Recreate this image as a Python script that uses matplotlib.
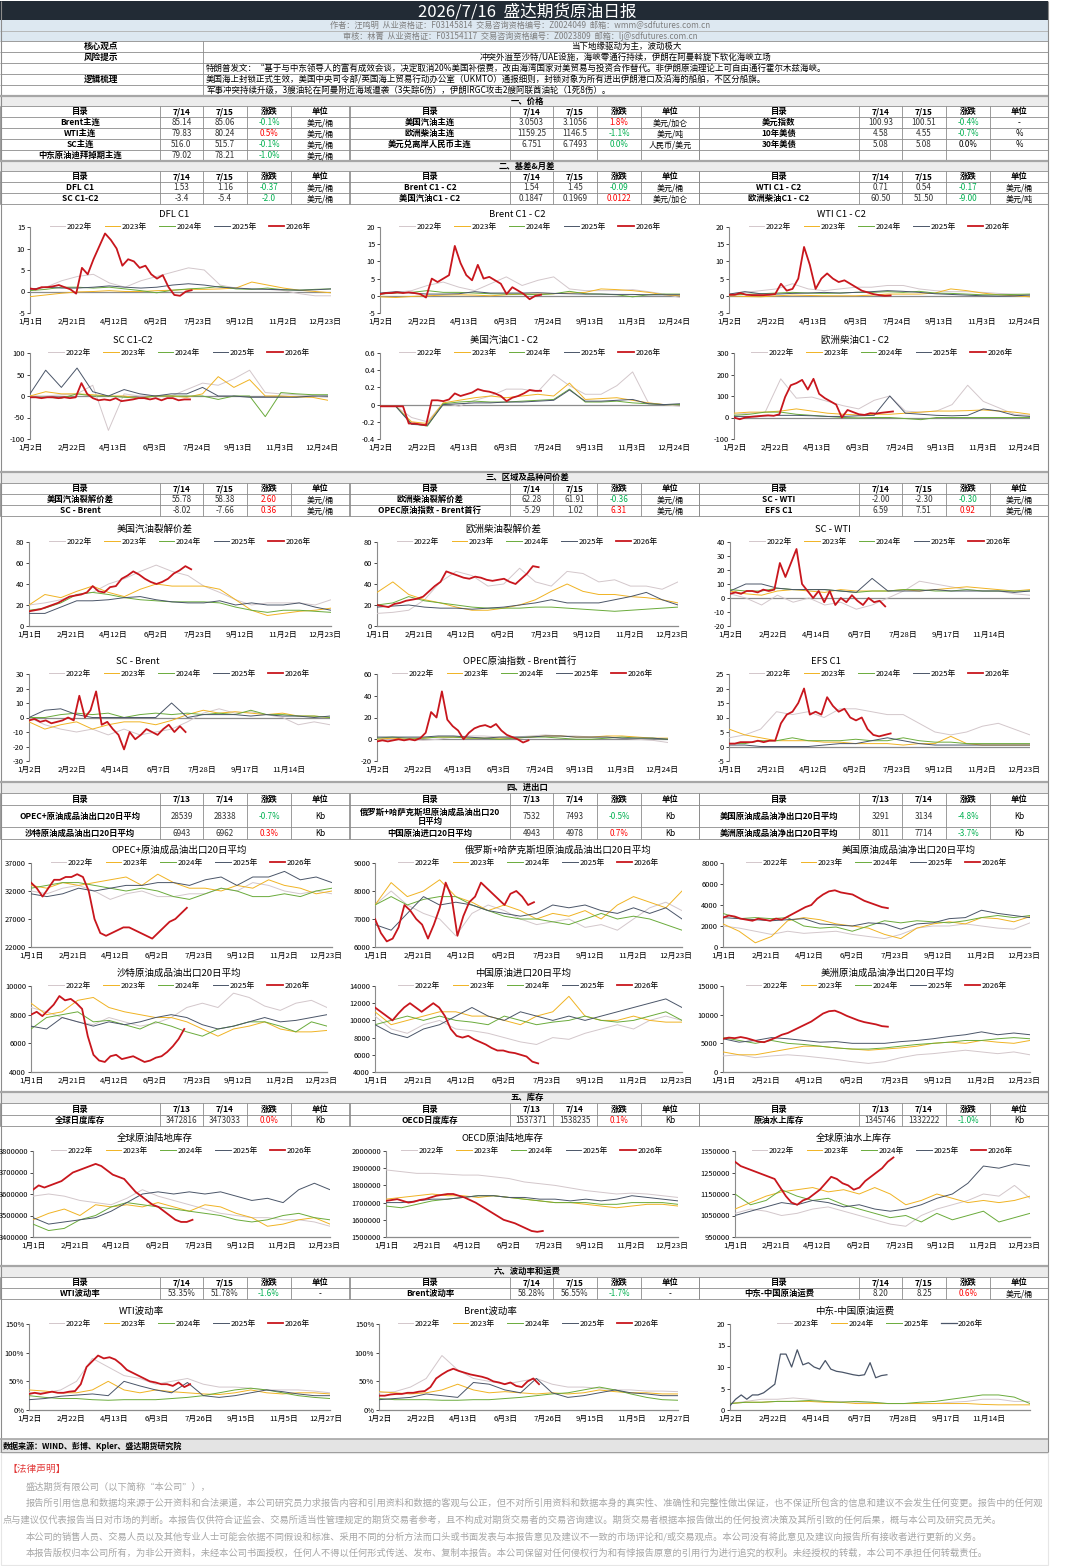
import numpy as np
import matplotlib
matplotlib.use('Agg')
import matplotlib.pyplot as plt
from matplotlib.patches import Rectangle

FONT = ['Noto Sans CJK SC', 'DejaVu Sans']
plt.rcParams['font.family'] = FONT
plt.rcParams['axes.unicode_minus'] = False

# ---------------- text / table data ----------------
report_title = '2026/7/16  盛达期货原油日报'
author_line = '作者：汪鸣明  从业资格证：F03145814  交易咨询资格编号：Z0024049  邮箱：wmm@sdfutures.com.cn'
review_line = '审核：林菁  从业资格证：F03154117  交易咨询资格编号：Z0023809  邮箱：lj@sdfutures.com.cn'
core_view = '当下地缘驱动为主，波动极大'
risk_note = '冲突外溢至沙特/UAE设施，海峡零通行持续，伊朗在阿曼斡旋下软化海峡立场'
logic_lines = [
    '特朗普发文：“基于与中东领导人的富有成效会谈，决定取消20%美国补偿费，改由海湾国家对美贸易与投资合作替代。非伊朗原油理论上可自由通行霍尔木兹海峡。',
    '美国海上封锁正式生效，美国中央司令部/英国海上贸易行动办公室（UKMTO）通报细则，封锁对象为所有进出伊朗港口及沿海的船舶，不区分船旗。',
    '军事冲突持续升级，3艘油轮在阿曼附近海域遭袭（3失踪6伤），伊朗IRGC攻击2艘阿联酋油轮（1死8伤）。',
]

dates_a = ['7/14', '7/15']
dates_b = ['7/13', '7/14']

sec1_g1 = [('Brent主连', '85.14', '85.06', '-0.1%', '美元/桶', 'g'),
           ('WTI主连', '79.83', '80.24', '0.5%', '美元/桶', 'r'),
           ('SC主连', '516.0', '515.7', '-0.1%', '美元/桶', 'g'),
           ('中东原油迪拜掉期主连', '79.02', '78.21', '-1.0%', '美元/桶', 'g')]
sec1_g2 = [('美国汽油主连', '3.0503', '3.1056', '1.8%', '美元/加仑', 'r'),
           ('欧洲柴油主连', '1159.25', '1146.5', '-1.1%', '美元/吨', 'g'),
           ('美元兑离岸人民币主连', '6.751', '6.7493', '0.0%', '人民币/美元', 'g'),
           None]
sec1_g3 = [('美元指数', '100.93', '100.51', '-0.4%', '-', 'g'),
           ('10年美债', '4.58', '4.55', '-0.7%', '%', 'g'),
           ('30年美债', '5.08', '5.08', '0.0%', '%', 'k'),
           None]

sec2_g1 = [('DFL C1', '1.53', '1.16', '-0.37', '美元/桶', 'g'),
           ('SC C1-C2', '-3.4', '-5.4', '-2.0', '美元/桶', 'g')]
sec2_g2 = [('Brent C1 - C2', '1.54', '1.45', '-0.09', '美元/桶', 'g'),
           ('美国汽油C1 - C2', '0.1847', '0.1969', '0.0122', '美元/加仑', 'r')]
sec2_g3 = [('WTI C1 - C2', '0.71', '0.54', '-0.17', '美元/桶', 'g'),
           ('欧洲柴油C1 - C2', '60.50', '51.50', '-9.00', '美元/吨', 'g')]

sec3_g1 = [('美国汽油裂解价差', '55.78', '58.38', '2.60', '美元/桶', 'r'),
           ('SC - Brent', '-8.02', '-7.66', '0.36', '美元/桶', 'r')]
sec3_g2 = [('欧洲柴油裂解价差', '62.28', '61.91', '-0.36', '美元/桶', 'g'),
           ('OPEC原油指数 - Brent首行', '-5.29', '1.02', '6.31', '美元/桶', 'r')]
sec3_g3 = [('SC - WTI', '-2.00', '-2.30', '-0.30', '美元/桶', 'g'),
           ('EFS C1', '6.59', '7.51', '0.92', '美元/桶', 'r')]

sec4_g1 = [('OPEC+原油成品油出口20日平均', '28539', '28338', '-0.7%', 'Kb', 'g'),
           ('沙特原油成品油出口20日平均', '6943', '6962', '0.3%', 'Kb', 'r')]
sec4_g2 = [('俄罗斯+哈萨克斯坦原油成品油出口20\n日平均', '7532', '7493', '-0.5%', 'Kb', 'g'),
           ('中国原油进口20日平均', '4943', '4978', '0.7%', 'Kb', 'r')]
sec4_g3 = [('美国原油成品油净出口20日平均', '3291', '3134', '-4.8%', 'Kb', 'g'),
           ('美洲原油成品油净出口20日平均', '8011', '7714', '-3.7%', 'Kb', 'g')]

sec5_g1 = [('全球日度库存', '3472816', '3473033', '0.0%', 'Kb', 'r')]
sec5_g2 = [('OECD日度库存', '1537371', '1538235', '0.1%', 'Kb', 'r')]
sec5_g3 = [('原油水上库存', '1345746', '1332222', '-1.0%', 'Kb', 'g')]

sec6_g1 = [('WTI波动率', '53.35%', '51.78%', '-1.6%', '-', 'g')]
sec6_g2 = [('Brent波动率', '58.28%', '56.55%', '-1.7%', '-', 'g')]
sec6_g3 = [('中东-中国原油运费', '8.20', '8.25', '0.6%', '美元/桶', 'r')]

legal_lines = [
    '盛达期货有限公司（以下简称“本公司”），',
    '报告所引用信息和数据均来源于公开资料和合法渠道，本公司研究员力求报告内容和引用资料和数据的客观与公正，但不对所引用资料和数据本身的真实性、准确性和完整性做出保证，也不保证所包含的信息和建议不会发生任何变更。报告中的任何观',
    '点与建议仅代表报告当日对市场的判断。本报告仅供符合证监会、交易所适当性管理规定的期货交易者参考，且不构成对期货交易者的交易咨询建议。期货交易者根据本报告做出的任何投资决策及其所引致的任何后果，概与本公司及研究员无关。',
    '本公司的销售人员、交易人员以及其他专业人士可能会依据不同假设和标准、采用不同的分析方法而口头或书面发表与本报告意见及建议不一致的市场评论和/或交易观点。本公司没有将此意见及建议向报告所有接收者进行更新的义务。',
    '本报告版权归本公司所有，为非公开资料，未经本公司书面授权，任何人不得以任何形式传送、发布、复制本报告。本公司保留对任何侵权行为和有悖报告原意的引用行为进行追究的权利。未经授权的转载，本公司不承担任何转载责任。',
]

# ---------------- chart data (2022..2026) ----------------
years = ['2022年', '2023年', '2024年', '2025年', '2026年']
years_freight = ['2023年', '2024年', '2025年', '2026年']

xl_a = ['1月1日', '2月21日', '4月12日', '6月2日', '7月23日', '9月12日', '11月2日', '12月23日']
xl_b = ['1月2日', '2月22日', '4月13日', '6月3日', '7月24日', '9月13日', '11月3日', '12月24日']
xl_c = ['1月2日', '2月22日', '4月14日', '6月7日', '7月28日', '9月17日', '11月14日']
xl_d = ['1月2日', '2月22日', '4月13日', '6月3日', '7月26日', '9月15日', '11月5日', '12月27日']

dfl = [
    [0.5, 1.0, 2.5, 3.5, 4.0, 2.0, 1.0, 2.5, 3.5, 4.5, 5.5, 5.0, 1.5, 0.8, 0.5, 0.5, 0.2, -0.5, -1.0, -1.0],
    [-1.2, -0.8, -0.4, -0.1, 0.0, 0.2, 0.0, 0.0, 0.2, 0.3, 0.5, 0.5, 0.6, 0.8, 2.2, 1.5, 0.8, 0.3, 0.0, -0.3],
    [0.2, 0.5, 1.0, 1.0, 0.8, 1.0, 0.6, 0.2, -0.3, 0.3, 0.6, 0.8, 1.2, 0.6, 0.5, 0.8, 0.4, 0.3, 0.5, 0.6],
    [0.5, 1.0, 0.8, 0.8, 1.0, 1.3, 1.0, 0.8, 1.0, 1.5, 1.8, 1.5, 1.0, 0.8, 0.6, 0.5, 0.4, 0.3, 0.4, 0.6],
    [0.7, 0.5, 1.0, 1.0, 1.2, 1.5, 1.0, 0.5, -0.5, 5.5, 4.0, 7.5, 10.5, 13.5, 12.0, 10.0, 6.0, 7.5, 7.0,
     5.5, 6.0, 4.0, 3.0, 3.8, 1.0, -0.8, -1.0, 0.0, 0.3],
]
brent_spr = [
    [0.5, 1.0, 1.5, 3.0, 4.0, 2.5, 1.5, 3.5, 5.5, 3.0, 4.5, 5.5, 2.0, 1.5, 1.5, 1.5, 1.8, 1.2, 0.5, -0.5],
    [-0.3, -0.5, -0.2, 0.0, 0.2, 0.3, 0.2, 0.0, 0.3, 0.5, 0.5, 0.6, 0.8, 1.0, 2.0, 1.8, 1.5, 1.0, 0.3, 0.0],
    [0.5, 0.8, 1.0, 1.5, 1.0, 1.0, 0.8, 0.6, 0.5, 0.5, 0.3, 0.6, 1.3, 0.6, 0.5, 0.3, -0.3, 0.3, 0.5, 0.5],
    [0.8, 1.2, 0.8, 0.5, 0.5, 0.6, 1.2, 0.8, 0.8, 0.8, 0.9, 0.7, 0.6, 0.5, 0.5, 0.4, 0.4, 0.3, 0.3, 0.3],
    [0.5, 0.8, 0.8, 1.0, 0.8, 1.0, 0.8, 0.5, -0.5, 5.0, 4.0, 5.0, 6.0, 14.5, 9.5, 6.0, 4.5, 9.0, 5.0,
     5.5, 4.5, 3.5, 0.5, 2.5, 1.5, 0.5, -1.0, 0.0, 0.3],
]
wti_spr = [
    [0.5, 1.0, 1.5, 2.0, 3.5, 2.0, 1.5, 2.0, 2.5, 2.5, 3.0, 3.0, 2.0, 1.5, 1.2, 1.2, 1.0, 0.7, 0.5, 0.3],
    [0.0, -0.2, -0.3, 0.0, 0.2, 0.1, 0.0, 0.0, 0.0, 0.2, 0.5, 0.5, 0.5, 0.8, 2.0, 1.5, 0.8, 0.3, 0.0, -0.3],
    [0.3, 0.4, 0.6, 0.8, 1.0, 0.8, 0.7, 0.8, 1.0, 1.0, 1.2, 1.0, 1.3, 0.8, 0.7, 0.5, 0.3, 0.3, 0.4, 0.5],
    [0.5, 1.2, 0.6, 0.5, 0.7, 0.8, 1.0, 0.8, 1.0, 1.2, 1.5, 1.3, 1.0, 0.6, 0.4, 0.2, 0.0, -0.1, 0.0, 0.2],
    [0.3, 0.3, 0.8, 0.3, 0.2, 0.2, 0.2, 0.3, 0.5, 3.5, 1.5, 2.0, 5.0, 14.2, 9.0, 2.0, 5.0, 6.5, 5.0,
     4.0, 4.5, 3.5, 2.5, 1.5, 1.0, 0.5, 0.2, 0.0, 0.1],
]
sc_spr = [
    [0, 0, 3, 5, 25, -80, 5, 0, 0, 0, 15, 30, 25, 40, 60, 8, 5, 3, 0, -3],
    [0, 10, 5, 5, 3, 0, 0, -5, 0, 0, -3, 5, 45, 20, 38, 0, 0, -2, -3, -10],
    [-3, -3, -5, 5, 0, 0, -3, -5, 0, 0, 0, 0, -8, 0, 0, -48, 8, 5, 3, 3],
    [5, 60, 20, 65, 10, 0, 15, 5, 0, 5, 5, 20, 0, 0, -3, -3, -3, -3, 0, 0],
    [-3, -3, -5, -3, -3, -5, -3, -5, -3, 30, 5, -5, -10, -8, -10, -5, -12, -10, -8,
     -5, -5, -8, -5, -10, -5, -5, -10, -8, -8],
]
gas_spr = [
    [-0.02, -0.02, -0.15, -0.2, 0.02, -0.02, 0.05, 0.1, 0.18, 0.18, 0.15, 0.35, 0.22, 0.12, 0.12, 0.22, 0.38, 0.02, 0.0, -0.02],
    [-0.02, -0.02, -0.2, -0.22, 0.02, 0.05, 0.08, 0.1, 0.08, 0.1, 0.12, 0.1, 0.25, 0.06, 0.07, 0.08, 0.05, 0.02, 0.0, 0.0],
    [-0.02, -0.02, -0.22, -0.25, 0.01, 0.03, 0.04, 0.03, 0.03, 0.04, 0.05, 0.06, 0.18, 0.03, 0.03, 0.04, 0.02, 0.01, 0.0, 0.0],
    [-0.02, -0.02, -0.23, -0.24, 0.0, 0.01, 0.02, 0.02, 0.03, 0.03, 0.04, 0.05, 0.17, 0.04, 0.04, 0.05, 0.06, 0.01, 0.0, 0.01],
    [-0.02, -0.02, -0.02, -0.02, -0.02, -0.22, -0.22, -0.23, -0.24, 0.05, 0.05, 0.04, 0.06, 0.13, 0.10, 0.12,
     0.14, 0.18, 0.16, 0.15, 0.13, 0.10, 0.04, 0.08, 0.10, 0.13, 0.17, 0.16, 0.16],
]
dsl_spr = [
    [15, 20, 25, 180, 90, 95, 75, 55, 40, 80, 100, 30, 25, 30, 60, 150, 75, 45, 15, 10],
    [20, 25, 25, 30, 40, 30, 20, 15, 12, 15, 15, 20, 25, 30, 30, 32, 35, 30, 25, 15],
    [10, 15, 25, 25, 15, 10, 5, 0, -2, 0, 0, -5, -10, 0, 0, 0, 0, 0, 0, 0],
    [5, 5, 8, 10, 10, 8, 5, 5, 8, 10, 100, 20, 15, 10, 8, 10, 40, 30, 10, 5],
    [0, -8, 0, 3, 5, 8, 10, 8, 15, 95, 150, 160, 175, 130, 180, 110, 90, 75, 60, 0,
     35, 25, 15, 12, 20, 18, 22, 25, 28],
]

us_crack = [
    [20, 22, 25, 30, 32, 40, 45, 52, 58, 52, 48, 38, 32, 25, 20, 22, 22, 22, 20, 25],
    [20, 30, 27, 33, 38, 32, 28, 35, 40, 38, 38, 38, 35, 25, 15, 10, 12, 14, 15, 17],
    [15, 17, 22, 30, 32, 30, 27, 25, 24, 23, 23, 23, 22, 18, 15, 13, 15, 15, 14, 13],
    [12, 12, 18, 24, 24, 25, 27, 28, 25, 23, 22, 22, 24, 20, 22, 20, 20, 22, 18, 15],
    [14, 15, 16, 18, 20, 22, 25, 28, 29, 30, 32, 38, 33, 32, 37, 38, 45, 48, 52,
     49, 45, 42, 40, 42, 45, 50, 53, 57, 54],
]
eu_crack = [
    [12, 13, 15, 25, 42, 52, 48, 38, 40, 55, 42, 38, 52, 50, 42, 44, 38, 38, 35, 42],
    [32, 42, 30, 25, 22, 18, 15, 15, 17, 20, 25, 33, 40, 33, 30, 30, 28, 27, 25, 22],
    [20, 22, 28, 24, 22, 20, 18, 17, 17, 17, 18, 18, 17, 16, 15, 14, 15, 16, 17, 18],
    [18, 19, 20, 18, 17, 17, 16, 17, 18, 20, 22, 25, 22, 22, 22, 25, 28, 32, 25, 20],
    [20, 19, 18, 21, 22, 24, 25, 26, 28, 33, 38, 42, 52, 50, 48, 46, 45, 47, 46,
     44, 43, 44, 45, 42, 40, 45, 50, 57, 56],
]
sc_wti = [
    [3, 0, -5, 2, -3, 0, -5, -3, -8, -5, 0, 5, 12, 10, 8, 6, 5, 5, 3, 2],
    [5, 3, 2, 5, 6, 5, 4, 6, 5, 5, 5, 6, 5, 6, 7, 8, 7, 6, 5, 6],
    [6, 5, 5, 7, 6, 6, 6, 5, 4, 5, 5, 6, 6, 5, 5, 6, 5, 5, 5, 5],
    [5, 10, 10, 7, 6, 6, 6, 5, 4, 14, 5, 5, 5, 6, 5, 5, 5, 5, 4, 5],
    [3, 4, 3, 5, 5, 4, 6, 5, 6, 25, 15, 25, 35, 10, 5, 0, 5, -3, 5,
     -5, 0, -3, 2, -2, -5, 0, -3, -2, -6],
]
sc_brent = [
    [0, -5, -8, -10, -8, -12, -8, -12, -10, -8, -3, 3, 6, 3, 4, 2, 0, -5, -3, -5],
    [-3, -8, -5, -3, -8, -5, -3, -3, -5, -2, 2, 5, 3, 4, 3, 2, 3, 1, 1, 0],
    [0, 0, 2, 3, 2, 3, 0, 2, 3, 2, 3, 2, 3, 2, 5, 2, 2, 1, 1, 0],
    [0, 5, 6, 2, 0, 0, 0, 0, 0, 10, 0, 2, 2, 2, 1, 2, 1, 1, 0, 1],
    [-2, -1, -3, -2, -4, -3, -2, 0, -2, 15, 0, 5, 18, -5, -3, -8, -12, -22, -10,
     -15, -12, -8, -10, -12, -8, -5, -10, -6, -10],
]
opec_brent = [
    [0, 0, 0, -1, 0, 2, 3, 3, 2, 2, 3, 4, 3, 3, 2, 2, 1, 0, -1, -3],
    [0, 1, 0, 1, 2, 2, 1, 1, 1, 1, 2, 3, 3, 2, 2, 3, 3, 2, 1, 1],
    [1, 2, 1, 1, 2, 2, 1, 1, 0, 1, 2, 2, 1, 0, 0, 1, 2, 1, 1, 0],
    [2, 2, 2, 2, 3, 3, 2, 1, 2, 2, 2, 3, 3, 2, 2, 2, 1, 1, 1, 0],
    [-2, -1, -2, -1, 0, -1, 0, -1, 1, 6, 25, 20, 44, 18, 12, 8, 0, 6, 10,
     12, 13, 11, 14, 8, 4, 2, 0, -3, -1],
]
efs = [
    [3, 4, 6, 12, 11, 12, 10, 13, 13, 12, 11, 11, 8, 5, 4, 5, 7, 8, 6, 4],
    [6, 4, 3, 2, 2, 2, 1.5, 1.5, 1, 1, 1, 0.5, 1, 1, 3.5, 1, 0.5, 0.5, 0.5, 0.5],
    [1, 1, 2, 2, 3, 2, 2, 2, 2.5, 2, 2, 3, 2, 1.5, 1.5, 1, 1, 1, 1, 1],
    [0.5, 0.5, 0, 0, 0, 0, 0.5, 1, 1, 2, 3, 2, 1, 0.5, 0.5, 0.5, 0.5, 0.5, 0.5, 0.5],
    [1, 1, 1.5, 1.5, 1.5, 2, 1.5, 2, 2, 8, 11, 12, 15, 20, 11, 12, 11, 17, 14,
     12, 13, 10, 9, 10, 6, 4, 3.5, 4, 4.5],
]

opec_exp = [
    [32000, 31500, 32500, 33000, 32000, 30500, 31500, 32000, 31000, 31000, 31500, 31500, 32500, 32000, 33500, 33000, 32000, 31500, 32000, 31500],
    [33000, 32500, 33500, 33000, 33500, 34000, 34500, 33000, 35000, 33500, 32500, 32500, 32000, 33000, 32500, 34000, 33000, 32500, 31500, 32000],
    [32500, 33000, 33500, 33500, 33000, 32500, 32000, 32500, 32000, 31000, 30500, 31500, 32500, 32000, 31000, 31000, 31500, 31000, 32000, 32500],
    [31500, 31000, 31500, 32500, 32000, 32500, 33000, 33000, 33500, 33500, 33000, 34000, 34500, 33000, 34500, 34500, 35500, 34000, 34500, 33500],
    [33500, 32500, 31000, 32500, 34000, 34000, 34500, 34500, 35000, 34500, 32000, 27000, 24500, 24000,
     24500, 25000, 25500, 25500, 25000, 24500, 24000, 23500, 24500, 25500, 26500, 27000, 28000, 29000],
]
rus_exp = [
    [7500, 8000, 7500, 7200, 7000, 6400, 7200, 7500, 7300, 7000, 6800, 6900, 7000, 6700, 6800, 6600, 7000, 7400, 7600, 7300],
    [7500, 8300, 7800, 8000, 8400, 7800, 7600, 7300, 7500, 7300, 7000, 7200, 7100, 7300, 7000, 7500, 7800, 7600, 7400, 8000],
    [7500, 7800, 7500, 7700, 7800, 7800, 7500, 7300, 7100, 7000, 7000, 6900, 6800, 7000, 7200, 7000, 7100, 7000, 6800, 6600],
    [6800, 6600, 7200, 7800, 7500, 7600, 7500, 7300, 7200, 7100, 7200, 7500, 7400, 7500, 7300, 7200, 7400, 7200, 7400, 7000],
    [7000, 6500, 6200, 6300, 6700, 7500, 7300, 7000, 6800, 6300, 6800, 7400, 8300, 7800,
     6400, 7100, 7600, 7800, 8300, 8100, 7900, 7700, 7500, 7900, 8000, 7800, 7500, 7600],
]
us_exp = [
    [2000, 1800, 1500, 1200, 1500, 1300, 1400, 1500, 1200, 1000, 800, 1200, 1800, 2000, 2000, 2200, 2000, 1800, 1700, 2300],
    [2200, 1500, 400, 1000, 2500, 2800, 2600, 2200, 2000, 1800, 1200, 800, 1800, 2200, 2400, 2200, 2800, 2700, 2400, 2900],
    [3200, 2700, 2800, 2700, 2800, 2000, 1800, 1900, 1500, 2000, 2500, 2300, 2500, 2400, 2300, 2500, 2800, 3000, 2800, 3000],
    [2800, 2700, 2600, 2500, 2600, 2700, 2200, 2100, 2000, 2300, 2200, 1700, 2200, 2300, 2700, 2800, 3500, 3200, 3000, 2800],
    [2800, 3000, 2900, 2700, 2600, 2500, 2700, 2600, 2500, 2700, 2600, 2900, 3200, 3500, 3800,
     4000, 4600, 5000, 5300, 5400, 5200, 5100, 5000, 4700, 4400, 4200, 4000, 3800, 3700],
]
saudi_exp = [
    [8500, 8200, 7800, 7500, 7300, 7800, 7500, 7200, 7400, 7800, 8500, 8800, 8500, 9500, 9200, 8600, 8300, 8800, 9000, 8500],
    [8800, 8000, 8200, 9000, 9200, 8500, 8200, 8000, 7800, 7800, 7500, 7000, 6500, 7000, 7200, 7500, 7000, 6800, 6800, 6900],
    [7000, 7800, 8000, 8200, 7500, 7600, 7300, 7000, 7500, 7200, 6800, 6500, 7000, 7200, 7500, 7500, 7200, 6800, 7500, 7200],
    [7200, 7000, 7800, 7500, 7200, 7500, 7300, 7500, 7800, 8000, 7800, 7300, 7000, 7200, 7500, 7800, 7500, 7600, 7800, 8000],
    [8000, 8200, 7900, 8300, 8700, 9300, 9000, 9100, 8800, 8400, 6500, 5200, 4800, 4700,
     5100, 5200, 4900, 5000, 5100, 4900, 4700, 4800, 5000, 5100, 5400, 5800, 6300, 7000],
]
china_imp = [
    [10500, 9000, 8500, 9500, 10000, 9000, 8800, 8500, 8000, 7500, 7200, 8000, 7800, 8500, 9000, 9500, 9000, 10000, 10500, 10000],
    [11000, 9500, 10000, 10500, 11000, 11000, 10500, 10500, 10000, 9500, 10500, 11000, 12800, 10500, 10000, 10000, 10500, 10000, 9800, 9800],
    [9500, 10000, 10500, 10000, 10500, 10000, 9800, 9500, 10500, 10000, 9500, 9800, 10000, 10500, 10000, 9800, 10000, 10500, 11000, 10000],
    [9500, 8500, 8000, 9000, 9500, 10500, 11500, 10500, 10000, 11000, 10500, 10000, 10500, 10000, 10500, 11000, 11500, 12000, 12500, 11500],
    [11500, 11000, 10500, 10000, 10800, 11500, 12000, 11500, 11000, 11500, 12000, 11500, 10500, 9000, 8200,
     8000, 8200, 7800, 7500, 7200, 6800, 6500, 6500, 6300, 6200, 6000, 5800, 5200, 5000],
]
amer_exp = [
    [2800, 3000, 2500, 2800, 3000, 2800, 2500, 2200, 1800, 1500, 1800, 2500, 3000, 3200, 3500, 3800, 3500, 3200, 3500, 3000],
    [3500, 3000, 3000, 3500, 4000, 4500, 4500, 4200, 4000, 3800, 4000, 4200, 4500, 5000, 5200, 5000, 5500, 5200, 5000, 5500],
    [6000, 5500, 5000, 5500, 5000, 4800, 4500, 4200, 4000, 4000, 4200, 4500, 4800, 5000, 5200, 5500, 5500, 5800, 6000, 5800],
    [5800, 5200, 5500, 6000, 5800, 5500, 5200, 5300, 5000, 5000, 5000, 5300, 5500, 5800, 6200, 6500, 7000, 6500, 6800, 6500],
    [5800, 6000, 5900, 6100, 5900, 5600, 5300, 5200, 5600, 6000, 6500, 6800, 7300, 7800, 8300,
     8800, 9500, 10200, 10600, 10700, 10300, 9800, 9400, 9000, 8700, 8500, 8300, 8000, 7900],
]

glob_stk = [
    [3590000, 3600000, 3590000, 3570000, 3560000, 3550000, 3580000, 3620000, 3590000, 3570000,
     3550000, 3530000, 3510000, 3500000, 3490000, 3490000, 3480000, 3480000, 3470000, 3450000],
    [3480000, 3510000, 3530000, 3500000, 3550000, 3540000, 3550000, 3540000, 3560000, 3540000,
     3520000, 3550000, 3540000, 3510000, 3490000, 3450000, 3460000, 3480000, 3490000, 3460000],
    [3460000, 3430000, 3440000, 3480000, 3500000, 3540000, 3560000, 3550000, 3540000, 3530000,
     3520000, 3510000, 3500000, 3480000, 3470000, 3480000, 3500000, 3510000, 3490000, 3480000],
    [3490000, 3460000, 3470000, 3480000, 3490000, 3520000, 3560000, 3600000, 3610000, 3600000,
     3610000, 3600000, 3610000, 3590000, 3570000, 3580000, 3560000, 3620000, 3650000, 3620000],
    [3620000, 3640000, 3630000, 3640000, 3650000, 3660000, 3680000, 3700000, 3710000, 3720000,
     3730000, 3740000, 3730000, 3710000, 3690000, 3680000, 3670000, 3640000, 3610000, 3590000,
     3570000, 3550000, 3540000, 3520000, 3500000, 3480000, 3470000, 3470000, 3480000],
]
oecd_stk = [
    [1890000, 1880000, 1870000, 1870000, 1865000, 1860000, 1860000, 1850000, 1840000, 1820000,
     1810000, 1800000, 1785000, 1770000, 1760000, 1750000, 1755000, 1750000, 1740000, 1730000],
    [1720000, 1730000, 1740000, 1750000, 1740000, 1740000, 1730000, 1740000, 1730000, 1720000,
     1710000, 1700000, 1700000, 1690000, 1680000, 1670000, 1680000, 1690000, 1690000, 1680000],
    [1680000, 1670000, 1690000, 1710000, 1720000, 1730000, 1740000, 1740000, 1730000, 1720000,
     1710000, 1700000, 1700000, 1700000, 1690000, 1690000, 1700000, 1700000, 1700000, 1690000],
    [1700000, 1700000, 1710000, 1720000, 1720000, 1730000, 1740000, 1740000, 1730000, 1730000,
     1720000, 1720000, 1710000, 1720000, 1710000, 1720000, 1740000, 1730000, 1720000, 1710000],
    [1710000, 1715000, 1720000, 1710000, 1700000, 1705000, 1715000, 1720000, 1730000, 1740000,
     1745000, 1750000, 1750000, 1740000, 1730000, 1715000, 1700000, 1680000, 1660000, 1640000,
     1620000, 1600000, 1590000, 1580000, 1565000, 1550000, 1535000, 1530000, 1535000],
]
float_stk = [
    [1060000, 1080000, 1070000, 1050000, 1060000, 1080000, 1090000, 1070000, 1050000, 1030000,
     1010000, 1000000, 1050000, 1080000, 1100000, 1120000, 1150000, 1140000, 1190000, 1130000],
    [1080000, 1110000, 1140000, 1160000, 1170000, 1180000, 1160000, 1170000, 1150000, 1180000,
     1150000, 1100000, 1120000, 1150000, 1130000, 1110000, 1120000, 1110000, 1120000, 1140000],
    [1150000, 1100000, 1120000, 1170000, 1140000, 1120000, 1130000, 1100000, 1080000, 1060000,
     1040000, 1050000, 1020000, 1060000, 1030000, 1050000, 1070000, 1020000, 1040000, 1060000],
    [1050000, 1070000, 1090000, 1110000, 1100000, 1120000, 1110000, 1090000, 1100000, 1080000,
     1070000, 1080000, 1100000, 1130000, 1150000, 1200000, 1280000, 1270000, 1290000, 1280000],
    [1300000, 1280000, 1270000, 1260000, 1250000, 1240000, 1230000, 1220000, 1180000, 1140000,
     1110000, 1100000, 1120000, 1130000, 1150000, 1170000, 1200000, 1230000, 1220000, 1200000,
     1190000, 1170000, 1180000, 1210000, 1230000, 1250000, 1270000, 1300000, 1320000],
]

wti_vol = [
    [30, 30, 35, 50, 90, 75, 60, 55, 45, 50, 55, 45, 40, 40, 38, 35, 35, 35, 33, 30],
    [35, 33, 30, 30, 35, 50, 35, 30, 35, 32, 30, 28, 27, 30, 35, 30, 28, 30, 30, 28],
    [25, 22, 20, 20, 18, 17, 18, 18, 18, 20, 22, 25, 30, 35, 38, 35, 30, 25, 22, 20],
    [18, 20, 24, 26, 28, 25, 50, 42, 35, 30, 48, 25, 22, 25, 30, 35, 32, 28, 25, 25],
    [28, 30, 28, 30, 32, 30, 30, 32, 33, 45, 75, 85, 95, 90, 92, 88, 80, 70, 65,
     60, 55, 50, 48, 45, 45, 42, 48, 40, 45],
]
brent_vol = [
    [30, 32, 40, 55, 95, 70, 55, 50, 45, 50, 55, 45, 40, 40, 38, 35, 35, 33, 33, 32],
    [32, 30, 28, 30, 35, 45, 35, 30, 32, 30, 28, 30, 28, 30, 35, 32, 30, 30, 28, 28],
    [20, 18, 18, 18, 17, 17, 18, 18, 20, 22, 25, 28, 30, 35, 40, 35, 28, 22, 18, 17],
    [18, 20, 22, 28, 25, 22, 48, 45, 35, 30, 55, 30, 22, 25, 30, 35, 30, 28, 25, 25],
    [25, 25, 27, 28, 28, 30, 30, 32, 33, 40, 55, 62, 68, 72, 68, 65, 62, 60, 58,
     55, 50, 48, 45, 48, 42, 40, 50, 55, 45],
]
freight = [
    [1.5, 2, 2.5, 2.5, 2.8, 2.5, 2.0, 2, 1.8, 1.8, 1.5, 1.5, 1.5, 1.5, 1.8, 2, 2.5, 2.5, 2, 2],
    [1.5, 1.8, 1.8, 2, 2, 2, 1.8, 1.8, 1.5, 1.5, 1.5, 1.5, 1.5, 1.5, 1.5, 1.5, 1.3, 1.2, 1.2, 1.2],
    [1.5, 1.8, 1.8, 2, 2, 2.2, 2, 1.8, 2, 1.8, 1.5, 1.5, 1.8, 2, 2.5, 3, 3.5, 3.5, 3, 1.5],
    [1.0, 2.5, 3.5, 2.5, 3.5, 3.5, 4.0, 5.0, 6.0, 13.0, 13.0, 10.0, 14.0, 10.5, 11.0, 10.0, 9.5, 11.5,
     9.5, 9.0, 8.8, 8.5, 8.2, 8.0, 8.2, 11.0, 7.5, 8.0, 8.2],
]

# ---------------- drawing ----------------
W, H = 1080, 1566
RIGHT = 1048
GRID = '#8c8c8c'
CHG = {'g': '#00b050', 'r': '#ff0000', 'k': '#000000'}
COLORS = ['#d3c7cb', '#f0b323', '#6aab3b', '#4a5568', '#c8161d']
LWS = [0.7, 0.7, 0.7, 0.7, 1.3]

fig = plt.figure(figsize=(W / 100, H / 100), dpi=100)
bg = fig.add_axes([0, 0, 1, 1])
bg.set_xlim(0, W)
bg.set_ylim(H, 0)
bg.axis('off')


def rect(x0, y0, x1, y1, fc, ec='none', lw=0.6):
    bg.add_patch(Rectangle((x0, y0), x1 - x0, y1 - y0, facecolor=fc, edgecolor=ec, linewidth=lw))


def line(x0, y0, x1, y1, c=GRID, lw=0.6):
    bg.plot([x0, x1], [y0, y1], color=c, lw=lw, solid_capstyle='butt')


def txt(x, y, s, size=6, color='#000000', ha='center', bold=False):
    # small upward nudge: center_baseline sits a touch low for CJK glyphs
    bg.text(x, y - 0.7, s, fontsize=size, color=color, ha=ha, va='center_baseline',
            fontweight='bold' if bold else 'normal', linespacing=1.05)


COLS = [0, 160, 203, 247, 291, 349]
GX = [0, 350, 699]


def table(yb, dates, groups):
    for gx, rows in zip(GX, groups):
        for cx in COLS:
            line(gx + cx, yb[0], gx + cx, yb[-1])
        heads = ['目录', dates[0], dates[1], '涨跌', '单位']
        for i, hd in enumerate(heads):
            txt(gx + (COLS[i] + COLS[i + 1]) / 2, (yb[0] + yb[1]) / 2, hd, 6, bold=True)
        for r, row in enumerate(rows):
            if row is None:
                continue
            yc = (yb[r + 1] + yb[r + 2]) / 2
            name, v1, v2, chg, unit, cc = row
            txt(gx + 80, yc, name, 6, bold=True)
            txt(gx + 181.5, yc, v1, 5.8, '#333333')
            txt(gx + 225, yc, v2, 5.8, '#333333')
            txt(gx + 269, yc, chg, 5.8, CHG[cc])
            txt(gx + 320, yc, unit, 5.8)
    for y in yb:
        line(0, y, RIGHT, y)


def section(y0, y1, label):
    rect(0, y0, RIGHT, y1, '#ececec')
    line(0, y0, RIGHT, y0, '#a6a6a6', 1.6)
    txt(527, (y0 + y1) / 2, label, 6, bold=True)


def chart(box, title, tx, data, ylim, ystep, yfmt, xlabels, xmax, xstep, end26,
          labels=years, colors=COLORS, lws=LWS):
    l, t, r, b = box
    ax = fig.add_axes([l / W, 1 - b / H, (r - l) / W, (b - t) / H])
    ax.patch.set_alpha(0)
    n = len(data)
    for i, vals in enumerate(data):
        end = end26 if i == n - 1 else xmax
        xs = np.linspace(0, end, len(vals))
        ax.plot(xs, vals, color=colors[i], lw=lws[i], label=labels[i], zorder=3 + i)
    ax.set_xlim(0, xmax)
    ax.set_ylim(*ylim)
    yt = np.arange(ylim[0], ylim[1] + ystep / 2, ystep)
    ax.set_yticks(yt)
    ax.set_yticklabels([yfmt(v) for v in yt])
    ax.set_xticks(np.arange(len(xlabels)) * xstep)
    ax.set_xticklabels(xlabels)
    for s in ['top', 'right']:
        ax.spines[s].set_visible(False)
    ax.spines['left'].set_color('#8c8c8c')
    ax.spines['left'].set_linewidth(0.8)
    if ylim[0] < 0:
        ax.spines['bottom'].set_visible(False)
        ax.axhline(0, color='#8c8c8c', lw=0.9, zorder=2)
    else:
        ax.spines['bottom'].set_color('#8c8c8c')
        ax.spines['bottom'].set_linewidth(0.9)
    ax.tick_params(axis='x', length=0, labelsize=5.6, pad=3.5, colors='#000000')
    ax.tick_params(axis='y', length=2, width=0.5, labelsize=5.4, pad=1.5, colors='#000000')
    ax.legend(loc='center', bbox_to_anchor=(0.5, 1.0), ncol=len(data), frameon=False,
              fontsize=5.6, handlelength=2.0, handletextpad=0.2, columnspacing=1.6,
              borderaxespad=0, borderpad=0)
    txt(tx, t - 13, title, 6.8)
    return ax


f_g = lambda v: f'{round(v, 2):g}'
f_i = lambda v: f'{v:.0f}'
f_p = lambda v: f'{v:.0f}%'

# header block
rect(0, 1, RIGHT, 20, '#222b35')
txt(527, 11, report_title, 12, '#ffffff')
rect(0, 20, RIGHT, 41, '#dde8f1')
line(0, 31, RIGHT, 31, '#b0b0b0')
txt(520, 25.5, author_line, 5.9, '#7f7f7f')
txt(520, 36, review_line, 5.9, '#7f7f7f')
for y in [41, 52, 63, 74, 85, 96]:
    line(0, y, RIGHT, y)
line(203, 41, 203, 96)
txt(101, 46.5, '核心观点', 6.2, bold=True)
txt(101, 57.5, '风险提示', 6.2, bold=True)
txt(101, 79.5, '逻辑梳理', 6.2, bold=True)
txt(626, 46.5, core_view, 6.1)
txt(626, 57.5, risk_note, 6.1)
for i, s in enumerate(logic_lines):
    txt(206, 68.5 + 11 * i, s, 6.1, ha='left')

# outer frame
line(0.5, 1, 0.5, 1452, GRID, 0.8)
line(RIGHT, 1, RIGHT, 1452, GRID, 0.8)

# section 1 & 2 tables
section(96, 106, '一、价格')
table([106, 117, 128, 139, 150, 161], dates_a, [sec1_g1, sec1_g2, sec1_g3])
section(161, 171, '二、基差&月差')
table([171, 182, 193, 204], dates_a, [sec2_g1, sec2_g2, sec2_g3])

chart((30, 227, 331, 313), 'DFL C1', 174, dfl, (-5, 15), 5, f_g, xl_a, 365, 51, 196)
chart((380, 227, 680, 313), 'Brent C1 - C2', 517, brent_spr, (-5, 20), 5, f_g, xl_b, 365, 51, 196)
chart((729, 227, 1030, 313), 'WTI C1 - C2', 841, wti_spr, (-5, 20), 5, f_g, xl_b, 365, 51, 196)
chart((30, 353, 328, 439), 'SC C1-C2', 133, sc_spr, (-100, 100), 50, f_g, xl_b, 365, 51, 196)
chart((380, 353, 680, 439), '美国汽油C1 - C2', 504, gas_spr, (-0.4, 0.6), 0.2, f_g, xl_b, 365, 51, 196)
chart((734, 353, 1030, 439), '欧洲柴油C1 - C2', 855, dsl_spr, (-100, 300), 100, f_g, xl_b, 365, 51, 196)

# section 3
section(472, 483, '三、区域及品种间价差')
table([483, 494, 505, 516], dates_a, [sec3_g1, sec3_g2, sec3_g3])
chart((29, 542, 331, 626), '美国汽油裂解价差', 155, us_crack, (0, 80), 20, f_g, xl_a, 365, 51, 196)
chart((377, 542, 678, 626), '欧洲柴油裂解价差', 503, eu_crack, (0, 80), 20, f_g, xl_a, 365, 51, 196)
chart((730, 542, 1030, 626), 'SC - WTI', 833, sc_wti, (-20, 40), 10, f_g, xl_c, 348, 50, 180)
chart((29, 674, 330, 761), 'SC - Brent', 138, sc_brent, (-30, 30), 10, f_g, xl_c, 348, 50, 181)
chart((377, 674, 668, 761), 'OPEC原油指数 - Brent首行', 520, opec_brent, (-20, 60), 20, f_g, xl_b, 365, 51, 190)
chart((729, 674, 1030, 761), 'EFS C1', 826, efs, (-5, 25), 5, f_g, xl_a, 365, 51, 196)

# section 4
section(782, 793, '四、进出口')
table([793, 805, 827, 839], dates_b, [sec4_g1, sec4_g2, sec4_g3])
chart((31, 863, 332, 947), 'OPEC+原油成品油出口20日平均', 179, opec_exp, (22000, 37000), 5000, f_i, xl_a, 365, 51, 189)
chart((375, 863, 682, 947), '俄罗斯+哈萨克斯坦原油成品油出口20日平均', 558, rus_exp, (6000, 9000), 1000, f_i, xl_a, 365, 51, 189)
chart((723, 863, 1030, 947), '美国原油成品油净出口20日平均', 909, us_exp, (0, 8000), 2000, f_i, xl_a, 365, 51, 196)
chart((31, 986, 327, 1072), '沙特原油成品油出口20日平均', 179, saudi_exp, (4000, 10000), 2000, f_i, xl_a, 365, 51, 189)
chart((375, 986, 682, 1072), '中国原油进口20日平均', 523, china_imp, (4000, 14000), 2000, f_i, xl_a, 365, 51, 194)
chart((723, 986, 1030, 1072), '美洲原油成品油净出口20日平均', 888, amer_exp, (0, 15000), 5000, f_i, xl_a, 365, 51, 196)

# section 5
section(1092, 1103, '五、库存')
table([1103, 1115, 1126], dates_b, [sec5_g1, sec5_g2, sec5_g3])
chart((33, 1151, 330, 1237), '全球原油陆地库存', 155, glob_stk, (3400000, 3800000), 100000, f_i, xl_a, 365, 51, 196)
chart((386, 1151, 678, 1237), 'OECD原油陆地库存', 503, oecd_stk, (1500000, 2000000), 100000, f_i, xl_a, 365, 51, 196)
chart((735, 1151, 1030, 1237), '全球原油水上库存', 854, float_stk, (950000, 1350000), 100000, f_i, xl_a, 365, 51, 196)

# section 6
section(1266, 1277, '六、波动率和运费')
table([1277, 1288, 1299], dates_a, [sec6_g1, sec6_g2, sec6_g3])
chart((29, 1324, 330, 1410), 'WTI波动率', 141, wti_vol, (0, 150), 50, f_p, xl_d, 355, 50, 190)
chart((379, 1324, 678, 1410), 'Brent波动率', 490, brent_vol, (0, 150), 50, f_p, xl_d, 355, 50, 190)
chart((730, 1324, 1030, 1410), '中东-中国原油运费', 855, freight, (0, 20), 5, f_g, xl_c, 348, 50, 182,
      labels=years_freight, colors=COLORS[:3] + ['#4a5568'], lws=[0.7, 0.7, 0.7, 0.9])

# data source + legal block
rect(0, 1439, RIGHT, 1452, '#e4e4e4')
line(0, 1439, RIGHT, 1439, '#a6a6a6', 1.2)
line(0, 1452, RIGHT, 1452, GRID, 0.6)
txt(3, 1445.5, '数据来源：WIND、彭博、Kpler、盛达期货研究院', 5.8, ha='left', bold=True)
rect(1, 1453, RIGHT, 1565, 'none', '#e6e6e6', 0.8)
txt(8, 1469, '【法律声明】', 7, '#e23a3a', ha='left')
legal_y = [1487, 1503, 1520, 1536, 1553]
legal_x = [26, 26, 3, 26, 26]
for s, x, y in zip(legal_lines, legal_x, legal_y):
    txt(x, y, s, 6.65, '#a6a6a6', ha='left')

fig.savefig('out.png', dpi=100)
